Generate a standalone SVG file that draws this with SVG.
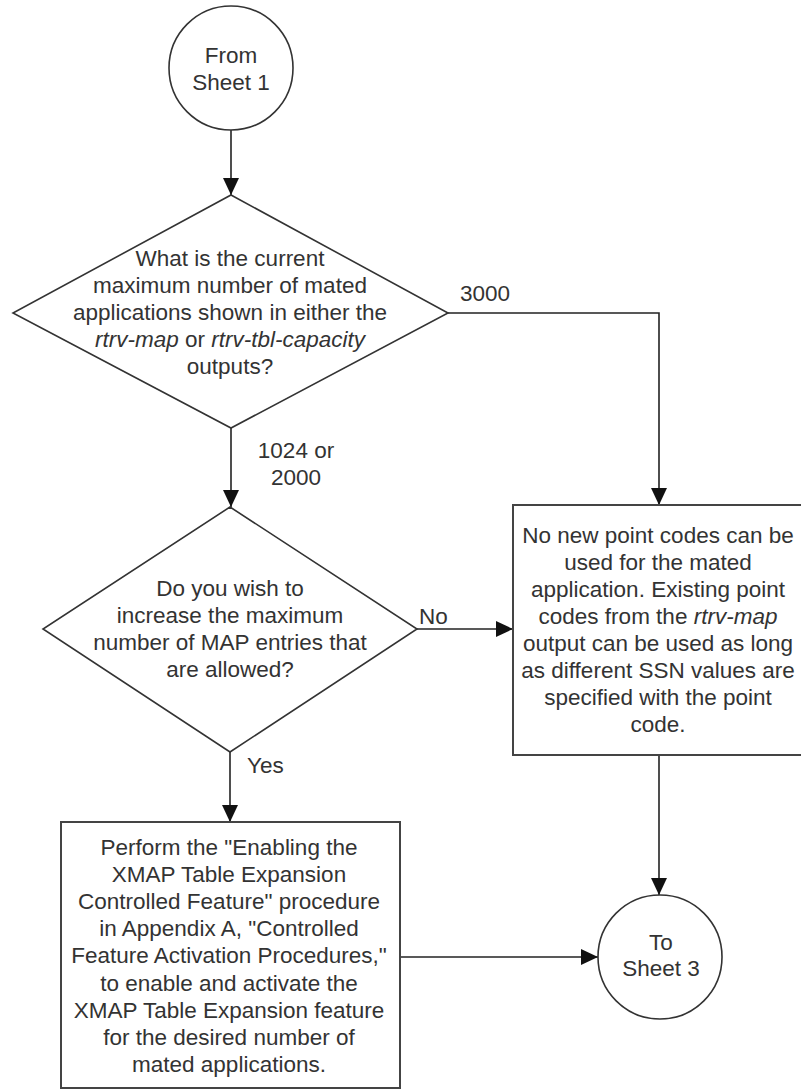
<svg xmlns="http://www.w3.org/2000/svg" width="801" height="1090" viewBox="0 0 801 1090">
<defs>
<marker id="arr" markerWidth="17" markerHeight="16" refX="17" refY="8" orient="auto" markerUnits="userSpaceOnUse">
<path d="M0,0 L17,8 L0,16 Z" fill="#111"/>
</marker>
<style>
.shape{fill:#fff;stroke:#333;stroke-width:1.6}
.box{fill:#fff;stroke:#444;stroke-width:2}
.conn{fill:none;stroke:#222;stroke-width:1.6}
text{font-family:"Liberation Sans",Arial,sans-serif;font-size:22.5px;fill:#333;text-anchor:middle;dominant-baseline:central}
.lbl{text-anchor:start}
.it{font-style:italic}
</style>
</defs>
<rect width="801" height="1090" fill="#fff"/>
<g id="connectors">
<line class="conn" x1="231" y1="130" x2="231" y2="195" marker-end="url(#arr)"/>
<line class="conn" x1="231" y1="428" x2="231" y2="507" marker-end="url(#arr)"/>
<polyline class="conn" points="448,313 659,313 659,505" marker-end="url(#arr)"/>
<line class="conn" x1="417" y1="629" x2="513" y2="629" marker-end="url(#arr)"/>
<line class="conn" x1="230" y1="752" x2="230" y2="822" marker-end="url(#arr)"/>
<line class="conn" x1="659" y1="755" x2="659" y2="895" marker-end="url(#arr)"/>
<line class="conn" x1="400" y1="957" x2="598" y2="957" marker-end="url(#arr)"/>
<text x="485" y="293">3000</text>
<text x="296" y="450">1024 or</text>
<text x="296" y="477">2000</text>
<text class="lbl" x="419" y="616">No</text>
<text class="lbl" x="247" y="765">Yes</text>
</g>
<g id="from-sheet1">
<circle class="shape" cx="231" cy="68" r="62"/>
<text x="231" y="55">From</text>
<text x="231" y="82">Sheet 1</text>
</g>
<g id="decision1">
<polygon class="shape" points="231,195 448,313 231,428 13,313"/>
<text x="230" y="258">What is the current</text>
<text x="230" y="285">maximum number of mated</text>
<text x="230" y="312">applications shown in either the</text>
<text x="230" y="339"><tspan class="it">rtrv-map</tspan> or <tspan class="it">rtrv-tbl-capacity</tspan></text>
<text x="230" y="366">outputs?</text>
</g>
<g id="decision2">
<polygon class="shape" points="230,507 417,629 230,752 43,629"/>
<text x="230" y="588">Do you wish to</text>
<text x="230" y="615">increase the maximum</text>
<text x="230" y="642">number of MAP entries that</text>
<text x="230" y="669">are allowed?</text>
</g>
<g id="box-no-new">
<rect class="box" x="513" y="505" width="292" height="250"/>
<text x="658" y="535">No new point codes can be</text>
<text x="658" y="562">used for the mated</text>
<text x="658" y="589">application. Existing point</text>
<text x="658" y="616">codes from the <tspan class="it">rtrv-map</tspan></text>
<text x="658" y="643">output can be used as long</text>
<text x="658" y="670">as different SSN values are</text>
<text x="658" y="697">specified with the point</text>
<text x="658" y="724">code.</text>
</g>
<g id="box-enable">
<rect class="box" x="61" y="822" width="339" height="266"/>
<text x="229" y="847">Perform the "Enabling the</text>
<text x="229" y="874">XMAP Table Expansion</text>
<text x="229" y="901">Controlled Feature" procedure</text>
<text x="229" y="928">in Appendix A, "Controlled</text>
<text x="229" y="955">Feature Activation Procedures,"</text>
<text x="229" y="983">to enable and activate the</text>
<text x="229" y="1010">XMAP Table Expansion feature</text>
<text x="229" y="1037">for the desired number of</text>
<text x="229" y="1064">mated applications.</text>
</g>
<g id="to-sheet3">
<circle class="shape" cx="660" cy="957" r="62"/>
<text x="661" y="942">To</text>
<text x="661" y="968">Sheet 3</text>
</g>
</svg>
